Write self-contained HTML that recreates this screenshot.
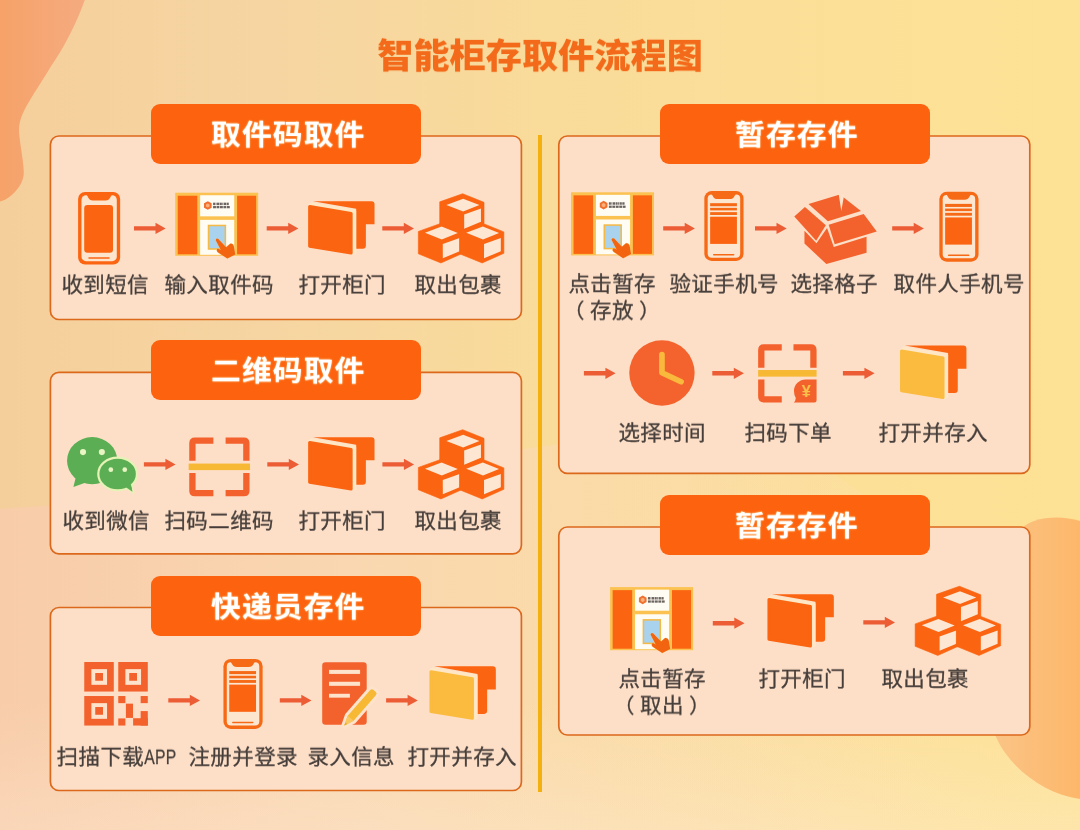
<!DOCTYPE html>
<html lang="zh-CN">
<head>
<meta charset="utf-8">
<title>智能柜存取件流程图</title>
<style>
html,body{margin:0;padding:0;}
body{width:1080px;height:830px;position:relative;overflow:hidden;background:#F9DA9E;font-family:"Liberation Sans","Noto Sans CJK SC",sans-serif;}
#bg{position:absolute;left:0;top:0;width:1080px;height:830px;}
.title{will-change:transform;transform:scaleY(.95);transform-origin:50% 100%;position:absolute;left:0;width:1080px;text-align:center;font-size:36.2px;font-weight:900;color:#F26A1A;line-height:36px;top:38px;letter-spacing:0px;white-space:nowrap;}
.pill{position:absolute;background:#FD620E;border-radius:9px;color:#fff;font-weight:700;font-size:29.8px;text-align:center;white-space:nowrap;letter-spacing:1.1px;text-shadow:0 0 2px rgba(255,225,150,.9);}
.pill span{display:inline-block;position:relative;left:1.8px;transform:scaleY(.94);transform-origin:50% 50%;will-change:transform;}
.lb{position:absolute;width:200px;margin-left:-100px;text-align:center;font-size:21.5px;line-height:28.4px;transform:scaleY(.95);transform-origin:50% 0;will-change:transform;color:#463E3A;-webkit-text-stroke:.3px #463E3A;white-space:nowrap;letter-spacing:.4px;text-indent:.4px;}
.ps{letter-spacing:5.5px;}
.nr{display:inline-block;transform:scaleX(.73);transform-origin:0 50%;margin-right:-11px;}
</style>
</head>
<body>
<svg id="bg" width="1080" height="830" viewBox="0 0 1080 830">
<defs>
<linearGradient id="gbg" x1="0" y1="0" x2="1" y2="0">
<stop offset="0" stop-color="#F5CF9B"/><stop offset=".25" stop-color="#F6D5A2"/><stop offset=".5" stop-color="#F9DB9A"/><stop offset=".8" stop-color="#FCE097"/><stop offset="1" stop-color="#FDE295"/>
</linearGradient>
<linearGradient id="gbl" x1="0" y1="0" x2="1" y2="0">
<stop offset="0" stop-color="#F6A268"/><stop offset="1" stop-color="#F5AB80"/>
</linearGradient>
<linearGradient id="gbr" x1="0" y1="0" x2="1" y2="0">
<stop offset="0" stop-color="#FAC68A"/><stop offset="1" stop-color="#FDB76A"/>
</linearGradient>
<linearGradient id="gbt" x1="0" y1="0" x2="0" y2="1"><stop offset="0" stop-color="#FFEEDD" stop-opacity="0"/><stop offset="1" stop-color="#FFEEDD" stop-opacity=".3"/></linearGradient>
<linearGradient id="gwv" x1="0" y1="0" x2="1" y2="0">
<stop offset="0" stop-color="#F8CCA9" stop-opacity="1"/><stop offset=".35" stop-color="#FAD7B3" stop-opacity=".85"/><stop offset=".75" stop-color="#FCDDB4" stop-opacity=".35"/><stop offset="1" stop-color="#FCE0B0" stop-opacity="0"/>
</linearGradient>
</defs>
<rect width="1080" height="830" fill="url(#gbg)"/>
<path d="M0 509C120 500 300 500 420 470C520 445 620 430 760 450C880 470 960 560 1000 830H0Z" fill="url(#gwv)"/>
<rect x="0" y="700" width="1080" height="130" fill="url(#gbt)"/>
<!-- BLOBS -->
<path d="M0 0H84.8C80 14 70 36 59.6 53C50 68 36 90 26.5 106C21 116 18.5 124 19.1 132.5C20 145 23.5 160 23.8 172C24 182 17 191 10.6 196C7 199 3 201 0 201.5Z" fill="url(#gbl)"/>
<path d="M1080 521C1066 517 1050 516 1034 521C1004 532 984 580 981 640C979 690 988 722 1000 745C1016 772 1046 794 1080 799Z" fill="url(#gbr)"/>
<!-- DIVIDER -->
<rect x="538" y="135" width="4" height="657" fill="#F4B00F"/>
<!-- PANELS -->
<g fill="#FDDFC8" stroke="#DC681C" stroke-width="1.7">
<rect x="50.4" y="136" width="471" height="183.5" rx="8.5"/>
<rect x="50.4" y="372.3" width="471" height="181.5" rx="8.5"/>
<rect x="50.4" y="607.5" width="471" height="183" rx="8.5"/>
<rect x="558.8" y="136" width="471" height="337.3" rx="8.5"/>
<rect x="558.8" y="527" width="471" height="208" rx="8.5"/>
</g>
<defs>
<!-- arrow: origin = left-centre -->
<symbol id="arw" viewBox="0 0 32 12" overflow="visible"><path d="M0 3.8H21.5V0.4L31.7 6L21.5 11.6V8.2H0Z" fill="#EC5C35"/></symbol>
<!-- door (orange) : 110x84 box in 9.82 zoom coords -->
<symbol id="doorO" viewBox="0 0 1080 825">
<path d="M225 188H800Q830 188 830 218V415H745V625Q745 655 715 655H650V262Z" fill="#FB6410"/>
<path d="M178 222L210 198L636 267Q650 270 650 284V700L615 715Z" fill="#FFE7C6"/>
<path d="M193 241L600 310V698L193 631Z" fill="#FB6410" stroke="#FB6410" stroke-width="30" stroke-linejoin="round"/>
</symbol>
<symbol id="doorY" viewBox="0 0 1080 825">
<path d="M225 188H800Q830 188 830 218V415H745V625Q745 655 715 655H650V262Z" fill="#FB6410"/>
<path d="M178 222L210 198L636 267Q650 270 650 284V700L615 715Z" fill="#FFE7C6"/>
<path d="M193 241L600 310V698L193 631Z" fill="#FBBB3E" stroke="#FBBB3E" stroke-width="30" stroke-linejoin="round"/>
</symbol>
<!-- single cube, local coords -->
<symbol id="cube" viewBox="0 0 440 390" overflow="visible">
<path d="M225 0L435 85V295L222 390L0 300V80Z" fill="#FB6410" stroke="#FB6410" stroke-width="6" stroke-linejoin="round"/>
<path d="M230 50L390 110L230 175L65 110Z" fill="#FDE6D2"/>
<path d="M240 205L405 145V275L240 345Z" fill="#FDE6D2"/>
</symbol>
<symbol id="cubeB" viewBox="0 0 440 390" overflow="visible">
<path d="M225 0L435 85V295L222 390L0 300V80Z" fill="#FB6410" stroke="#FB6410" stroke-width="6" stroke-linejoin="round"/>
<path d="M228 33L388 95L230 160L65 93Z" fill="#FDE6D2"/>
<path d="M240 205L405 145V275L240 345Z" fill="#FDE6D2"/>
</symbol>
<symbol id="boxes" viewBox="0 0 1080 825">
<use href="#cube" x="390" y="115" width="440" height="390"/>
<use href="#cubeB" x="180" y="400" width="440" height="400"/>
<use href="#cubeB" x="585" y="400" width="440" height="400"/>
</symbol>
<!-- cabinet body (no text) -->
<symbol id="cab" viewBox="0 0 1080 825">
<rect x="100" y="105" width="815" height="620" fill="#FBC251"/>
<rect x="125" y="135" width="192" height="575" fill="#FB6410"/>
<rect x="708" y="135" width="187" height="575" fill="#FB6410"/>
<rect x="345" y="130" width="335" height="207" fill="#FFFCF3"/>
<rect x="345" y="372" width="335" height="343" fill="#FFFCF3"/>
<rect x="427" y="427" width="166" height="231" fill="#A9D2EE" stroke="#F5B945" stroke-width="15"/>
<path d="M420 188L458 209V252L420 273L383 252V209Z" fill="#F0702F"/>
<path d="M420 210L438 220V241L420 251L402 241V220Z" fill="#F9B27A"/>
<g fill="#6b6460"><rect x="472" y="203" width="20" height="24"/><rect x="497" y="203" width="9" height="24"/><rect x="511" y="203" width="22" height="24"/><rect x="538" y="203" width="20" height="24"/><rect x="563" y="203" width="9" height="24"/><rect x="577" y="203" width="22" height="24"/><rect x="604" y="203" width="22" height="24"/><rect x="472" y="236" width="28" height="22"/><rect x="506" y="236" width="28" height="22"/><rect x="540" y="236" width="28" height="22"/><rect x="574" y="236" width="28" height="22"/><rect x="608" y="236" width="28" height="22"/></g>
<path d="M498 572Q500 548 524 560L600 640L640 606Q668 600 676 630L690 712L612 752L518 690Q498 668 520 654L548 668Z" fill="#F2640F" stroke="#F7C878" stroke-width="6" stroke-linejoin="round" paint-order="stroke"/>
</symbol>
<!-- phone A -->
<symbol id="phA" viewBox="0 0 1080 825">
<rect x="325" y="98" width="413" height="712" rx="68" fill="#FB6410"/>
<rect x="358" y="130" width="347" height="648" rx="45" fill="#FDE4CC"/>
<path d="M405 128H660C640 132 645 182 595 182H470C420 182 425 132 405 128Z" fill="#FB6410"/>
<rect x="385" y="225" width="283" height="470" rx="32" fill="#FB6410"/>
<rect x="425" y="738" width="210" height="15" rx="7" fill="#FB6410"/>
</symbol>
<!-- phone B -->
<symbol id="phB" viewBox="0 0 1080 825">
<rect x="230" y="88" width="385" height="687" rx="72" fill="#F66A16"/>
<rect x="263" y="121" width="319" height="621" rx="40" fill="#FDE6D0"/>
<path d="M295 116H545C525 120 528 167 478 167H362C312 167 315 120 295 116Z" fill="#F66A16"/>
<rect x="287" y="207" width="263" height="30" fill="#F66A16"/>
<rect x="287" y="253" width="263" height="25" fill="#F66A16"/>
<rect x="287" y="295" width="263" height="28" fill="#F66A16"/>
<rect x="287" y="340" width="263" height="267" fill="#FB6410"/>
<rect x="315" y="705" width="210" height="15" rx="7" fill="#F66A16"/>
</symbol>
</defs>
<!-- ===== PANEL 1 ===== -->
<use href="#phA" x="45" y="182" width="110" height="84"/>
<use href="#arw" x="134" y="222.4" width="32" height="12"/>
<use href="#cab" x="165" y="182" width="110" height="84"/>
<use href="#arw" x="266.7" y="222.4" width="32" height="12"/>
<use href="#doorO" x="290" y="182" width="110" height="84"/>
<use href="#arw" x="382.3" y="222.4" width="32" height="12"/>
<use href="#boxes" x="400" y="182" width="110" height="84"/>
<!-- ===== PANEL 2 ===== -->
<svg x="55" y="420" width="110" height="84" viewBox="0 0 1080 825">
<path d="M205 560L180 657L310 612Z" fill="#5BAE53"/>
<ellipse cx="365" cy="400" rx="247" ry="232" fill="#5BAE53"/>
<path d="M700 660L772 717L752 625Z" fill="#5BAE53" stroke="#E6F2B6" stroke-width="18" stroke-linejoin="round"/>
<ellipse cx="615" cy="530" rx="190" ry="160" fill="#5BAE53" stroke="#E6F2B6" stroke-width="22"/>
<path d="M690 655L760 705L745 630Z" fill="#5BAE53"/>
<circle cx="275" cy="315" r="30" fill="#EAF5C4"/><circle cx="460" cy="315" r="30" fill="#EAF5C4"/>
<circle cx="548" cy="488" r="23" fill="#EAF5C4"/><circle cx="685" cy="488" r="23" fill="#EAF5C4"/>
</svg>
<use href="#arw" x="143.9" y="458.4" width="32" height="12"/>
<svg x="165" y="420" width="110" height="84" viewBox="0 0 1080 825">
<g fill="none" stroke="#F3612C" stroke-width="62" stroke-linejoin="round">
<path d="M269 400V228Q269 203 294 203H475"/><path d="M595 203H774Q799 203 799 228V400"/>
<path d="M269 520V694Q269 719 294 719H475"/><path d="M595 719H774Q799 719 799 694V520"/>
</g>
<rect x="232" y="428" width="603" height="64" fill="#F7B833"/>
</svg>
<use href="#arw" x="267.3" y="458.4" width="32" height="12"/>
<use href="#doorO" x="290" y="418" width="110" height="84"/>
<use href="#arw" x="382.4" y="458.4" width="32" height="12"/>
<use href="#boxes" x="400" y="418" width="110" height="84"/>
<!-- ===== PANEL 3 ===== -->
<svg x="60" y="650" width="110" height="84" viewBox="0 0 1080 825">
<g fill="#F3612C">
<rect x="238" y="118" width="290" height="290"/><rect x="572" y="118" width="290" height="290"/><rect x="238" y="452" width="290" height="290"/>
</g>
<g fill="#FDE3CB">
<rect x="308" y="188" width="154" height="154"/><rect x="642" y="188" width="154" height="154"/><rect x="308" y="522" width="154" height="154"/>
</g>
<g fill="#F3612C">
<rect x="346" y="226" width="76" height="76"/><rect x="680" y="226" width="76" height="76"/><rect x="346" y="560" width="76" height="76"/>
<rect x="572" y="452" width="70" height="70"/><rect x="792" y="452" width="70" height="70"/>
<rect x="647" y="527" width="70" height="140"/>
<rect x="792" y="600" width="70" height="142"/><rect x="718" y="670" width="144" height="72"/>
<rect x="572" y="672" width="70" height="70"/>
</g>
</svg>
<use href="#arw" x="168.3" y="694.4" width="32" height="12"/>
<use href="#phB" x="200" y="650" width="110" height="84"/>
<use href="#arw" x="279.8" y="694.4" width="32" height="12"/>
<svg x="300" y="650" width="110" height="84" viewBox="0 0 1080 825">
<rect x="218" y="120" width="437" height="615" rx="32" fill="#F3612C"/>
<rect x="285" y="195" width="305" height="40" fill="#FDE3CB"/><rect x="285" y="312" width="305" height="40" fill="#FDE3CB"/><rect x="285" y="430" width="205" height="38" fill="#FDE3CB"/>
<g transform="translate(435 742) rotate(-48.9)">
<path d="M0 0L95 -38H428Q452 -38 452 -16V16Q452 38 428 38H95Z" fill="#F7B833" stroke="#FDE3CB" stroke-width="58" stroke-linejoin="round"/>
<path d="M0 0L95 -38H428Q452 -38 452 -16V16Q452 38 428 38H95Z" fill="#F7B833"/>
<path d="M95 -38L0 0L95 38" fill="#F9C860"/>
<path d="M30 -12L0 0L30 12Z" fill="#E9A62A"/>
</g>
</svg>
<use href="#arw" x="386.1" y="694.4" width="32" height="12"/>
<use href="#doorY" x="411.3" y="647.2" width="110" height="84"/>
<!-- ===== PANEL 4 ===== -->
<use href="#cab" x="560.8" y="181.6" width="110" height="84"/>
<use href="#arw" x="663.2" y="222.4" width="32" height="12"/>
<use href="#phB" x="680.9" y="182.1" width="110" height="84"/>
<use href="#arw" x="755" y="222.4" width="32" height="12"/>
<svg x="780" y="182" width="110" height="84" viewBox="0 0 1080 825">
<g fill="#F3622C">
<path d="M280 215L588 122L795 285L470 385Z"/>
<path d="M140 338L245 245L450 425L355 578Z"/>
<path d="M478 420L822 315L950 487L537 612Z"/>
<path d="M240 478V605L455 805L850 695V538L528 638L462 452L358 602Z"/>
</g>
<path d="M576 118L630 126L602 285Z" fill="#FDE3CB"/>
</svg>
<use href="#arw" x="892.2" y="222.4" width="32" height="12"/>
<use href="#phB" x="915.9" y="182.8" width="110" height="84"/>
<!-- row 2 -->
<use href="#arw" x="583.9" y="367.3" width="32" height="12"/>
<svg x="610" y="330" width="110" height="84" viewBox="0 0 1080 825">
<circle cx="510" cy="422" r="321" fill="#F4632D"/>
<path d="M510 242V420L698 508" fill="none" stroke="#F9B93C" stroke-width="56" stroke-linecap="round" stroke-linejoin="round"/>
</svg>
<use href="#arw" x="712.3" y="367.3" width="32" height="12"/>
<svg x="740" y="330" width="110" height="84" viewBox="0 0 1080 825">
<g fill="none" stroke="#F3612C" stroke-width="62" stroke-linejoin="round">
<path d="M209 370V196Q209 171 234 171H410"/><path d="M525 171H696Q721 171 721 196V370"/>
<path d="M209 485V656Q209 681 234 681H410"/>
</g>
<rect x="178" y="393" width="574" height="65" fill="#F7B833"/>
<path d="M752 485H645A115 113 0 0 0 530 598Q530 640 548 668Q545 700 528 712H730Q752 712 752 690Z" fill="#F3612C"/>
<text x="650" y="662" font-size="160" font-weight="700" text-anchor="middle" fill="#F9C04A" font-family="'Liberation Sans','Noto Sans CJK SC',sans-serif">¥</text>
</svg>
<use href="#arw" x="842.9" y="367.3" width="32" height="12"/>
<use href="#doorY" x="881.9" y="326.4" width="110" height="84"/>
<!-- ===== PANEL 5 ===== -->
<use href="#cab" x="599.9" y="576.4" width="110" height="84"/>
<use href="#arw" x="712.8" y="617.2" width="32" height="12"/>
<use href="#doorO" x="749.3" y="575" width="110" height="84"/>
<use href="#arw" x="863.3" y="616.4" width="32" height="12"/>
<use href="#boxes" x="896.8" y="574.5" width="110" height="84"/>

</svg>

<div class="title">智能柜存取件流程图</div>

<div class="pill" style="left:151px;top:104px;width:270px;height:60px;line-height:62px;"><span>取件码取件</span></div>
<div class="pill" style="left:151px;top:340px;width:270px;height:60px;line-height:62px;"><span>二维码取件</span></div>
<div class="pill" style="left:151px;top:576px;width:270px;height:60px;line-height:62px;"><span>快递员存件</span></div>
<div class="pill" style="left:660px;top:104px;width:270px;height:60px;line-height:62px;"><span>暂存存件</span></div>
<div class="pill" style="left:660px;top:495px;width:270px;height:60px;line-height:62px;"><span>暂存存件</span></div>

<div class="lb" style="left:105.4px;top:271.5px;">收到短信</div>
<div class="lb" style="left:218.8px;top:271.5px;">输入取件码</div>
<div class="lb" style="left:342.3px;top:271.5px;">打开柜门</div>
<div class="lb" style="left:458.2px;top:271.5px;">取出包裹</div>

<div class="lb" style="left:105.5px;top:507.5px;">收到微信</div>
<div class="lb" style="left:219.4px;top:507.5px;">扫码二维码</div>
<div class="lb" style="left:342.3px;top:507.5px;">打开柜门</div>
<div class="lb" style="left:458.2px;top:507.5px;">取出包裹</div>

<div class="lb" style="left:117.1px;top:744px;">扫描下载<span class="nr">APP</span></div>
<div class="lb" style="left:243.3px;top:744px;">注册并登录</div>
<div class="lb" style="left:351.1px;top:744px;">录入信息</div>
<div class="lb" style="left:462.2px;top:744px;">打开并存入</div>

<div class="lb" style="left:611.6px;top:271px;">点击暂存<br><span class="ps">（</span>存<span class="ps">放</span>）</div>
<div class="lb" style="left:723.9px;top:271px;">验证手机号</div>
<div class="lb" style="left:834.2px;top:271px;">选择格子</div>
<div class="lb" style="left:958.6px;top:271px;">取件人手机号</div>

<div class="lb" style="left:661.6px;top:420px;">选择时间</div>
<div class="lb" style="left:787.5px;top:420px;">扫码下单</div>
<div class="lb" style="left:933.3px;top:420px;">打开并存入</div>

<div class="lb" style="left:661.6px;top:665.5px;">点击暂存<br><span class="ps">（</span>取<span class="ps">出</span>）</div>
<div class="lb" style="left:802px;top:665.5px;">打开柜门</div>
<div class="lb" style="left:925px;top:665.5px;">取出包裹</div>
</body>
</html>
